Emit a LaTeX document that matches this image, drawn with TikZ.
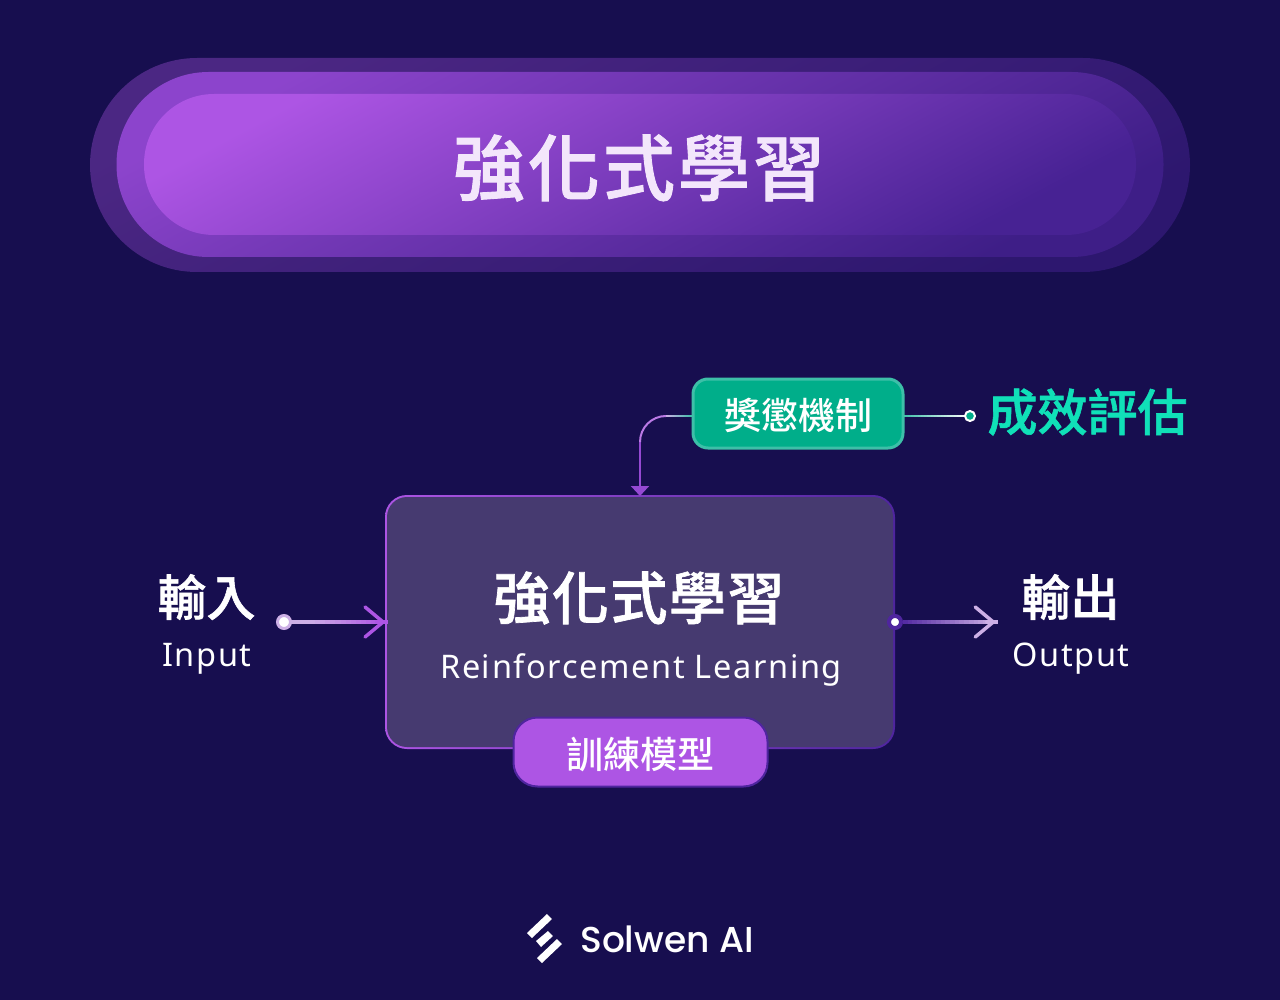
\documentclass[tikz,border=0pt]{standalone}
\usepackage{xcolor}
\usepackage{fontspec}
\setmainfont{Noto Sans CJK TC}[BoldFont={Noto Sans CJK TC Medium}, BoldFeatures={FakeBold=1.2}]
\newfontfamily\tagfont{Noto Sans CJK TC Medium}
\newfontfamily\latinfont[LetterSpace=5]{Noto Sans}
\newfontfamily\logofont{Poppins Medium}
\usetikzlibrary{arrows.meta, calc}

\definecolor{bgDark}{HTML}{170E4F}
\definecolor{panelFill}{HTML}{463A70}
\definecolor{edgeBright}{HTML}{AD55E4}
\definecolor{edgeDark}{HTML}{4F259F}
\definecolor{tealFill}{HTML}{00AE8A}
\definecolor{tealEdge}{HTML}{3DBFA8}
\definecolor{tealText}{HTML}{10E0B8}
\definecolor{titleText}{HTML}{F3E6FB}
\definecolor{lilac}{HTML}{CDB0E6}

\tikzset{
    pill/.style={rounded corners=#1, inner sep=0pt, shade},
    tagbox/.style={rounded corners=#1, inner sep=0pt, line width=2pt, text=white, font=\tagfont\fontsize{37}{40}\selectfont},
    bigword/.style={font=\bfseries, text=white, inner sep=0pt},
    smallword/.style={font=\latinfont\fontsize{32.5}{36}\selectfont, text=white, inner sep=0pt},
    barb/.style={-{Straight Barb[length=18pt, width=30pt, line cap=round, round]}, line width=3.5pt, line cap=round, shorten >=2pt},
}

\begin{document}
\begin{tikzpicture}[x=1pt, y=-1pt]
    \fill[bgDark] (0,0) rectangle (1280,1000);
    \useasboundingbox (0,0) rectangle (1280,1000);

    % Title pills
    \node[pill=107pt, minimum width=1100pt, minimum height=214pt, top color=edgeBright!35!bgDark, middle color=edgeDark!55!bgDark, bottom color=bgDark!60!edgeDark, shading angle=28] (titleOuter) at (640,165) {};
    \node[pill=92pt, minimum width=1047pt, minimum height=185pt, top color=edgeBright!65!edgeDark, middle color=edgeBright!25!edgeDark, bottom color=edgeDark!70!bgDark, shading angle=28] (titleMiddle) at (640,164.5) {};
    \node[pill=70pt, minimum width=992pt, minimum height=141pt, top color=edgeBright, middle color=edgeBright!60!edgeDark, bottom color=edgeDark!85!bgDark, shading angle=28] (titleInner) at (640,164.5) {};
    \node[font=\bfseries\fontsize{72}{80}\selectfont, text=titleText, inner sep=0pt] (titleText) at (639,168) {強\kern3pt 化\kern3pt 式\kern3pt 學\kern3pt 習};

    % Main box
    \node[pill=22pt, minimum width=510pt, minimum height=254pt, left color=edgeBright, right color=edgeDark] (mainEdge) at (640,622) {};
    \node[rounded corners=20pt, inner sep=0pt, fill=panelFill, minimum width=506pt, minimum height=250pt] (mainBox) at (640,622) {};
    \node[bigword, font=\bfseries\fontsize{57}{64}\selectfont] (mainZh) at (639,598) {強\kern1.5pt 化\kern1.5pt 式\kern1.5pt 學\kern1.5pt 習};
    \node[smallword] (mainEn) at (641,670) {Reinforcement Learning};

    % Training tag
    \node[tagbox=24pt, draw=edgeDark, fill=edgeBright, minimum width=254pt, minimum height=69pt] (trainTag) at (640.5,752) {\raisebox{-2pt}[\height][\depth]{訓練模型}};

    % Reward tag and score
    \node[tagbox=15pt, line width=3pt, draw=tealEdge, fill=tealFill, minimum width=210pt, minimum height=69pt] (rewardTag) at (798,413.5) {\raisebox{-2pt}[\height][\depth]{獎懲機制}};
    \node[bigword, font=\bfseries\fontsize{50}{56}\selectfont, text=tealText] (scoreWord) at (1087.5,412) {成效評估};
    \coordinate (scoreSpot) at (970,416);
    \coordinate (rewardLeft) at (rewardTag.west |- scoreSpot);
    \coordinate (rewardRight) at (rewardTag.east |- scoreSpot);
    \coordinate (bendStart) at (666,416);
    \coordinate (bendEnd) at (640,442);
    \coordinate (mainTop) at (640,496);

    % Connectors with fading colour
    \foreach \i in {0,...,19} {
        \pgfmathsetmacro{\pa}{\i/20}
        \pgfmathsetmacro{\pb}{(\i+1.2)/20}
        \pgfmathsetmacro{\mixv}{100-\i*5}
        \draw[line width=2pt, color=white!\mixv!tealEdge] ($(scoreSpot)!\pa!(rewardRight)$) -- ($(scoreSpot)!\pb!(rewardRight)$);
        \draw[line width=2pt, color=lilac!\mixv!tealEdge] ($(bendStart)!\pa!(rewardLeft)$) -- ($(bendStart)!\pb!(rewardLeft)$);
    }
    \draw[line width=2pt, color=edgeBright!75!edgeDark, -{Triangle[length=10pt, width=18pt]}] (bendEnd) -- (mainTop);
    \draw[line width=2pt, color=edgeBright!60!lilac] (bendEnd) to[out=90, in=180] (bendStart);
    \node[circle, draw=white, fill=tealFill, line width=2pt, minimum size=10pt, inner sep=0pt] (scoreDot) at (scoreSpot) {};

    % Input side
    \node[bigword, font=\bfseries\fontsize{49}{56}\selectfont] (inZh) at (206.5,597) {輸入};
    \node[smallword] (inEn) at (207,659) {Input};
    \coordinate (inSpot) at (284,622);
    \foreach \i in {0,...,19} {
        \pgfmathsetmacro{\pa}{\i/20}
        \pgfmathsetmacro{\pb}{(\i+1.2)/20}
        \pgfmathsetmacro{\mixv}{min(100,\i*7-30)}
        \pgfmathsetmacro{\mixw}{max(0,\mixv)}
        \draw[line width=3.5pt, color=edgeBright!\mixw!lilac] ($(inSpot)!\pa!(mainBox.west)$) -- ($(inSpot)!\pb!(mainBox.west)$);
    }
    \draw[barb, color=edgeBright] ($(inSpot)!0.9!(mainBox.west)$) -- (mainBox.west);
    \node[circle, draw=lilac, fill=white, line width=3pt, minimum size=13pt, inner sep=0pt] (inDot) at (inSpot) {};

    % Output side
    \node[bigword, font=\bfseries\fontsize{49}{56}\selectfont] (outZh) at (1070.5,597) {輸出};
    \node[smallword] (outEn) at (1071,659) {Output};
    \coordinate (outEnd) at (997,622);
    \node[circle, draw=edgeDark, fill=white, line width=4pt, minimum size=12pt, inner sep=0pt] (outDot) at (895,622) {};
    \foreach \i in {0,...,19} {
        \pgfmathsetmacro{\pa}{\i/20}
        \pgfmathsetmacro{\pb}{(\i+1.2)/20}
        \pgfmathsetmacro{\mixv}{\i*5+5}
        \draw[line width=3.5pt, color=lilac!\mixv!edgeDark] ($(outDot.east)!\pa!(outEnd)$) -- ($(outDot.east)!\pb!(outEnd)$);
    }
    \draw[barb, color=lilac] ($(outDot)!0.9!(outEnd)$) -- (outEnd);

    % Logo
    \fill[white] (527,933) -- (547,914) -- (552,919) -- (532,938) -- cycle;
    \fill[white] (536,941) -- (548,931) -- (553,936) -- (541,947) -- cycle;
    \fill[white] (537,958) -- (557,939) -- (562,944) -- (542,963) -- cycle;
    \node[font=\logofont\fontsize{36}{42}\selectfont, text=white, inner sep=0pt] (logoWord) at (667,939) {Solwen AI};
\end{tikzpicture}
\end{document}
